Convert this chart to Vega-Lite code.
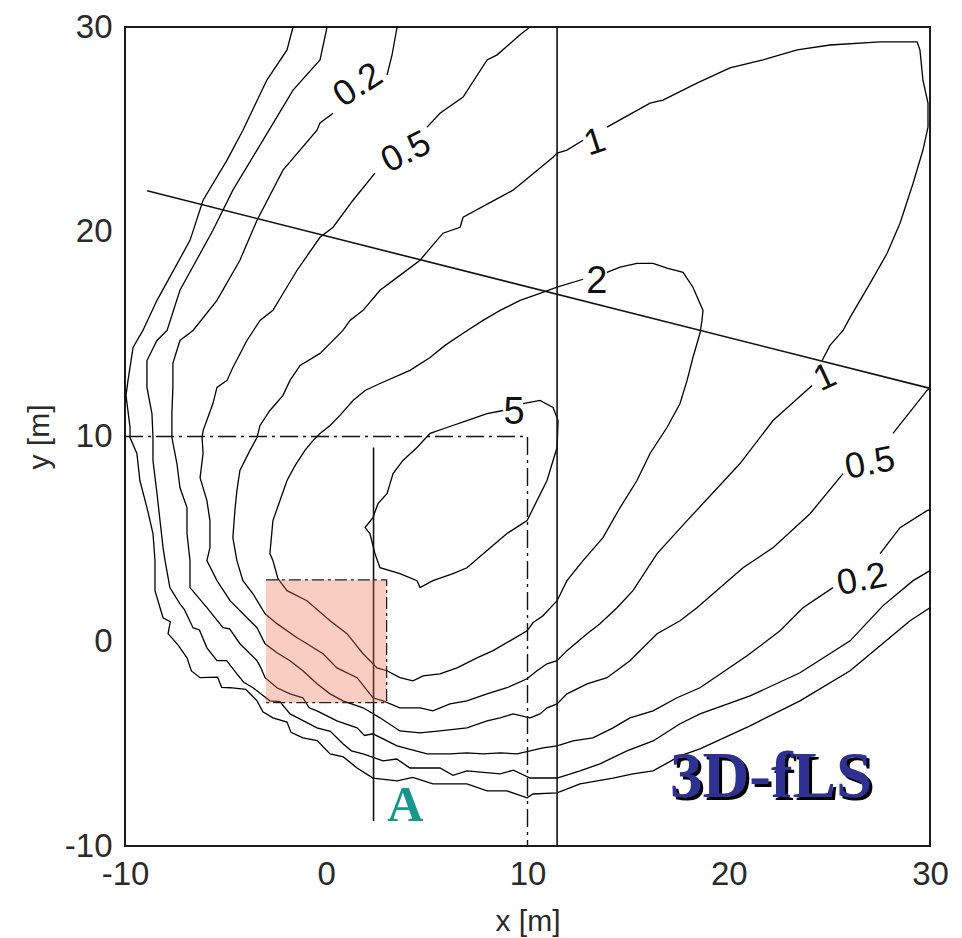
{
"$schema": "https://vega.github.io/schema/vega-lite/v6.json",
"width": 805, "height": 819,
"autosize": {"type": "none"},
"padding": {"left": 125, "top": 27, "right": 32, "bottom": 92},
"background": "white",
"config": {
 "view": {"stroke": "#1a1a1a", "strokeWidth": 2},
 "axis": {"grid": false, "domain": false, "ticks": false, "labelFont": "Liberation Sans Narrow, Liberation Sans", "labelFontSize": 33, "labelColor": "#2a2a2a", "titleFont": "Liberation Sans", "titleFontSize": 30, "titleFontWeight": "normal", "titleColor": "#2a2a2a", "labelFlush": false, "labelOverlap": false}
},
"datasets": {
 "lines": [
 {"g":"c005","i":0,"x":-1.65,"y":30.0},{"g":"c005","i":1,"x":-1.95,"y":28.88},{"g":"c005","i":2,"x":-2.95,"y":27.41},{"g":"c005","i":3,"x":-4.14,"y":24.96},{"g":"c005","i":4,"x":-4.93,"y":23.5},{"g":"c005","i":5,"x":-6.12,"y":21.54},{"g":"c005","i":6,"x":-6.77,"y":19.58},{"g":"c005","i":7,"x":-8.41,"y":16.65},{"g":"c005","i":8,"x":-9.11,"y":15.18},{"g":"c005","i":9,"x":-9.6,"y":14.35},{"g":"c005","i":10,"x":-9.85,"y":12.74},{"g":"c005","i":11,"x":-9.95,"y":12.01},{"g":"c005","i":12,"x":-9.75,"y":10.44},{"g":"c005","i":13,"x":-9.75,"y":9.95},{"g":"c005","i":14,"x":-9.41,"y":9.17},{"g":"c005","i":15,"x":-9.26,"y":7.85},{"g":"c005","i":16,"x":-8.91,"y":6.53},{"g":"c005","i":17,"x":-8.61,"y":5.26},{"g":"c005","i":18,"x":-8.51,"y":3.94},{"g":"c005","i":19,"x":-8.51,"y":2.47},{"g":"c005","i":20,"x":-8.11,"y":1.15},{"g":"c005","i":20.5,"x":-7.75,"y":0.95},{"g":"c005","i":21,"x":-7.86,"y":0.37},{"g":"c005","i":21.5,"x":-7.35,"y":-0.2},{"g":"c005","i":22,"x":-6.92,"y":-0.81},{"g":"c005","i":22.5,"x":-6.7,"y":-1.45},{"g":"c005","i":23,"x":-6.27,"y":-1.78},{"g":"c005","i":23.5,"x":-5.4,"y":-1.75},{"g":"c005","i":23.7,"x":-5.2,"y":-2.25},{"g":"c005","i":24,"x":-4.78,"y":-2.27},{"g":"c005","i":24.5,"x":-4.0,"y":-2.35},{"g":"c005","i":25,"x":-3.44,"y":-2.91},{"g":"c005","i":25.5,"x":-3.15,"y":-3.45},{"g":"c005","i":26,"x":-2.65,"y":-3.74},{"g":"c005","i":26.5,"x":-1.95,"y":-3.95},{"g":"c005","i":26.7,"x":-1.75,"y":-4.45},{"g":"c005","i":27,"x":-1.16,"y":-4.72},{"g":"c005","i":27.5,"x":-0.45,"y":-4.85},{"g":"c005","i":28,"x":0.19,"y":-5.5},{"g":"c005","i":28.5,"x":0.85,"y":-5.65},{"g":"c005","i":29,"x":1.53,"y":-6.19},{"g":"c005","i":30,"x":2.32,"y":-6.68},{"g":"c005","i":31,"x":3.52,"y":-6.82},{"g":"c005","i":31.5,"x":4.3,"y":-6.65},{"g":"c005","i":32,"x":5.3,"y":-6.97},{"g":"c005","i":33,"x":6.99,"y":-6.97},{"g":"c005","i":34,"x":7.99,"y":-7.31},{"g":"c005","i":35,"x":8.98,"y":-7.31},{"g":"c005","i":36,"x":9.98,"y":-7.65},{"g":"c005","i":37,"x":10.27,"y":-7.46},{"g":"c005","i":38,"x":11.47,"y":-7.41},{"g":"c005","i":39,"x":12.61,"y":-6.97},{"g":"c005","i":40,"x":14.25,"y":-6.68},{"g":"c005","i":41,"x":15.24,"y":-6.48},{"g":"c005","i":42,"x":16.24,"y":-6.33},{"g":"c005","i":43,"x":17.58,"y":-5.6},{"g":"c005","i":44,"x":18.57,"y":-5.26},{"g":"c005","i":45,"x":21.06,"y":-4.13},{"g":"c005","i":46,"x":23.54,"y":-2.91},{"g":"c005","i":47,"x":26.03,"y":-1.44},{"g":"c005","i":48,"x":27.52,"y":-0.22},{"g":"c005","i":49,"x":29.01,"y":1.0},{"g":"c005","i":50,"x":30.0,"y":1.64},
 {"g":"c01","i":0,"x":0.04,"y":30.0},{"g":"c01","i":1,"x":-0.31,"y":28.39},{"g":"c01","i":2,"x":-1.65,"y":26.92},{"g":"c01","i":3,"x":-3.44,"y":23.99},{"g":"c01","i":4,"x":-4.64,"y":22.03},{"g":"c01","i":5,"x":-5.63,"y":20.07},{"g":"c01","i":6,"x":-7.27,"y":17.14},{"g":"c01","i":7,"x":-7.91,"y":15.18},{"g":"c01","i":8,"x":-8.41,"y":14.69},{"g":"c01","i":9,"x":-8.91,"y":13.71},{"g":"c01","i":10,"x":-8.91,"y":12.4},{"g":"c01","i":11,"x":-8.66,"y":11.12},{"g":"c01","i":12,"x":-8.61,"y":9.95},{"g":"c01","i":13,"x":-8.61,"y":8.83},{"g":"c01","i":14,"x":-8.41,"y":7.21},{"g":"c01","i":15,"x":-8.26,"y":5.89},{"g":"c01","i":16,"x":-8.11,"y":4.57},{"g":"c01","i":17,"x":-8.01,"y":3.94},{"g":"c01","i":18,"x":-7.77,"y":2.62},{"g":"c01","i":19,"x":-7.27,"y":1.83},{"g":"c01","i":19.5,"x":-7.05,"y":1.55},{"g":"c01","i":20,"x":-6.62,"y":0.66},{"g":"c01","i":20.5,"x":-6.3,"y":0.55},{"g":"c01","i":21,"x":-5.93,"y":-0.32},{"g":"c01","i":22,"x":-5.43,"y":-0.95},{"g":"c01","i":22.5,"x":-4.95,"y":-0.95},{"g":"c01","i":23,"x":-4.44,"y":-1.59},{"g":"c01","i":23.5,"x":-4.1,"y":-2.0},{"g":"c01","i":24,"x":-3.64,"y":-2.27},{"g":"c01","i":25,"x":-2.8,"y":-2.91},{"g":"c01","i":25.5,"x":-2.3,"y":-2.95},{"g":"c01","i":26,"x":-1.8,"y":-3.55},{"g":"c01","i":27,"x":-0.46,"y":-4.23},{"g":"c01","i":27.5,"x":0.2,"y":-4.4},{"g":"c01","i":28,"x":0.83,"y":-5.01},{"g":"c01","i":28.5,"x":1.25,"y":-5.35},{"g":"c01","i":29,"x":1.83,"y":-5.5},{"g":"c01","i":30,"x":2.82,"y":-5.84},{"g":"c01","i":30.5,"x":3.5,"y":-5.75},{"g":"c01","i":31,"x":4.16,"y":-6.19},{"g":"c01","i":32,"x":5.65,"y":-6.19},{"g":"c01","i":32.5,"x":6.3,"y":-6.55},{"g":"c01","i":33,"x":6.99,"y":-6.33},{"g":"c01","i":34,"x":8.64,"y":-6.48},{"g":"c01","i":34.5,"x":9.3,"y":-6.3},{"g":"c01","i":35,"x":10.13,"y":-6.68},{"g":"c01","i":36,"x":11.47,"y":-6.68},{"g":"c01","i":37,"x":12.61,"y":-6.33},{"g":"c01","i":38,"x":13.6,"y":-5.99},{"g":"c01","i":39,"x":14.94,"y":-5.35},{"g":"c01","i":40,"x":16.24,"y":-4.87},{"g":"c01","i":41,"x":17.58,"y":-4.03},{"g":"c01","i":42,"x":18.57,"y":-3.55},{"g":"c01","i":43,"x":21.06,"y":-2.67},{"g":"c01","i":44,"x":23.54,"y":-1.54},{"g":"c01","i":45,"x":26.03,"y":0.02},{"g":"c01","i":46,"x":27.67,"y":1.74},{"g":"c01","i":47,"x":29.16,"y":2.96},{"g":"c01","i":48,"x":30.0,"y":3.45},
 {"g":"c02a","i":0,"x":3.02,"y":27.65},{"g":"c02a","i":1,"x":3.27,"y":28.64},{"g":"c02a","i":2,"x":3.52,"y":30.0},
 {"g":"c02b","i":0,"x":0.34,"y":25.79},{"g":"c02b","i":1,"x":-0.31,"y":25.31},{"g":"c02b","i":2,"x":-0.46,"y":24.96},{"g":"c02b","i":3,"x":-2.15,"y":23.01},{"g":"c02b","i":4,"x":-3.44,"y":20.56},{"g":"c02b","i":5,"x":-4.29,"y":18.61},{"g":"c02b","i":6,"x":-5.43,"y":16.65},{"g":"c02b","i":7,"x":-6.62,"y":15.18},{"g":"c02b","i":8,"x":-7.27,"y":14.69},{"g":"c02b","i":9,"x":-7.62,"y":13.57},{"g":"c02b","i":10,"x":-7.62,"y":12.4},{"g":"c02b","i":11,"x":-7.67,"y":11.12},{"g":"c02b","i":12,"x":-7.67,"y":9.95},{"g":"c02b","i":13,"x":-7.42,"y":8.68},{"g":"c02b","i":14,"x":-7.27,"y":7.51},{"g":"c02b","i":15,"x":-6.92,"y":6.53},{"g":"c02b","i":16,"x":-6.92,"y":5.26},{"g":"c02b","i":17,"x":-6.77,"y":3.94},{"g":"c02b","i":18,"x":-6.77,"y":2.62},{"g":"c02b","i":19,"x":-5.93,"y":1.64},{"g":"c02b","i":20,"x":-5.13,"y":0.66},{"g":"c02b","i":20.5,"x":-4.8,"y":0.6},{"g":"c02b","i":21,"x":-4.29,"y":-0.12},{"g":"c02b","i":22,"x":-3.44,"y":-0.95},{"g":"c02b","i":22.5,"x":-3.25,"y":-1.3},{"g":"c02b","i":23,"x":-3.04,"y":-1.78},{"g":"c02b","i":24,"x":-2.45,"y":-2.27},{"g":"c02b","i":25,"x":-1.8,"y":-2.57},{"g":"c02b","i":26,"x":-1.16,"y":-2.76},{"g":"c02b","i":26.5,"x":-0.85,"y":-3.25},{"g":"c02b","i":27,"x":-0.46,"y":-3.4},{"g":"c02b","i":28,"x":0.53,"y":-3.89},{"g":"c02b","i":29,"x":1.53,"y":-4.23},{"g":"c02b","i":29.5,"x":1.9,"y":-4.6},{"g":"c02b","i":30,"x":2.32,"y":-4.52},{"g":"c02b","i":31,"x":3.52,"y":-5.11},{"g":"c02b","i":32,"x":5.01,"y":-5.5},{"g":"c02b","i":33,"x":6.15,"y":-5.5},{"g":"c02b","i":34,"x":6.99,"y":-5.45},{"g":"c02b","i":35,"x":7.79,"y":-5.5},{"g":"c02b","i":36,"x":8.64,"y":-5.45},{"g":"c02b","i":37,"x":9.48,"y":-5.5},{"g":"c02b","i":38,"x":10.13,"y":-5.35},{"g":"c02b","i":39,"x":10.77,"y":-5.21},{"g":"c02b","i":40,"x":11.47,"y":-5.11},{"g":"c02b","i":41,"x":12.26,"y":-4.87},{"g":"c02b","i":42,"x":13.25,"y":-4.72},{"g":"c02b","i":43,"x":14.25,"y":-4.23},{"g":"c02b","i":44,"x":15.09,"y":-3.74},{"g":"c02b","i":45,"x":16.24,"y":-3.4},{"g":"c02b","i":46,"x":17.43,"y":-2.76},{"g":"c02b","i":47,"x":18.57,"y":-2.27},{"g":"c02b","i":48,"x":20.91,"y":-0.71},{"g":"c02b","i":49,"x":22.55,"y":0.51},{"g":"c02b","i":50,"x":23.69,"y":1.64},{"g":"c02b","i":51,"x":25.18,"y":2.62},
 {"g":"c02c","i":0,"x":27.52,"y":4.28},{"g":"c02c","i":1,"x":28.51,"y":5.55},{"g":"c02c","i":2,"x":29.85,"y":6.38},{"g":"c02c","i":3,"x":30.0,"y":6.43},
 {"g":"c05a","i":0,"x":10.13,"y":30.0},{"g":"c05a","i":1,"x":9.63,"y":29.62},{"g":"c05a","i":2,"x":8.49,"y":28.64},{"g":"c05a","i":3,"x":7.99,"y":28.39},{"g":"c05a","i":4,"x":6.8,"y":26.58},{"g":"c05a","i":5,"x":5.65,"y":25.79},{"g":"c05a","i":6,"x":5.01,"y":25.11},
 {"g":"c05b","i":0,"x":2.42,"y":22.86},{"g":"c05b","i":1,"x":1.33,"y":21.54},{"g":"c05b","i":2,"x":0.34,"y":20.22},{"g":"c05b","i":3,"x":-0.31,"y":19.73},{"g":"c05b","i":4,"x":-1.45,"y":18.12},{"g":"c05b","i":5,"x":-2.65,"y":16.16},{"g":"c05b","i":6,"x":-3.29,"y":15.67},{"g":"c05b","i":7,"x":-3.94,"y":14.69},{"g":"c05b","i":8,"x":-4.64,"y":13.37},{"g":"c05b","i":9,"x":-4.93,"y":12.74},{"g":"c05b","i":10,"x":-5.43,"y":12.4},{"g":"c05b","i":11,"x":-5.63,"y":11.61},{"g":"c05b","i":12,"x":-6.12,"y":10.29},{"g":"c05b","i":13,"x":-6.17,"y":9.95},{"g":"c05b","i":14,"x":-6.12,"y":9.17},{"g":"c05b","i":15,"x":-6.27,"y":7.99},{"g":"c05b","i":16,"x":-5.93,"y":6.87},{"g":"c05b","i":17,"x":-5.78,"y":5.89},{"g":"c05b","i":18,"x":-5.78,"y":4.57},{"g":"c05b","i":19,"x":-5.93,"y":3.94},{"g":"c05b","i":20,"x":-5.43,"y":2.96},{"g":"c05b","i":21,"x":-4.78,"y":1.98},{"g":"c05b","i":22,"x":-3.94,"y":1.15},{"g":"c05b","i":23,"x":-3.44,"y":0.66},{"g":"c05b","i":24,"x":-3.04,"y":-0.12},{"g":"c05b","i":25,"x":-2.45,"y":-0.56},{"g":"c05b","i":26,"x":-1.8,"y":-0.95},{"g":"c05b","i":27,"x":-1.16,"y":-1.44},{"g":"c05b","i":28,"x":-0.46,"y":-2.08},{"g":"c05b","i":29,"x":0.19,"y":-2.57},{"g":"c05b","i":30,"x":0.83,"y":-2.91},{"g":"c05b","i":31,"x":1.83,"y":-3.25},{"g":"c05b","i":32,"x":2.67,"y":-3.74},{"g":"c05b","i":33,"x":3.66,"y":-4.38},{"g":"c05b","i":34,"x":4.66,"y":-4.47},{"g":"c05b","i":35,"x":5.65,"y":-4.38},{"g":"c05b","i":36,"x":6.99,"y":-4.23},{"g":"c05b","i":37,"x":7.99,"y":-3.89},{"g":"c05b","i":38,"x":8.64,"y":-3.74},{"g":"c05b","i":39,"x":9.28,"y":-3.55},{"g":"c05b","i":40,"x":10.13,"y":-3.74},{"g":"c05b","i":41,"x":10.62,"y":-3.55},{"g":"c05b","i":42,"x":10.97,"y":-3.25},{"g":"c05b","i":43,"x":11.47,"y":-3.06},{"g":"c05b","i":44,"x":11.96,"y":-2.57},{"g":"c05b","i":45,"x":12.96,"y":-2.08},{"g":"c05b","i":46,"x":13.95,"y":-1.78},{"g":"c05b","i":47,"x":15.09,"y":-0.95},{"g":"c05b","i":48,"x":16.44,"y":0.37},{"g":"c05b","i":49,"x":17.58,"y":1.0},{"g":"c05b","i":50,"x":18.42,"y":1.64},{"g":"c05b","i":51,"x":20.71,"y":3.59},{"g":"c05b","i":52,"x":22.2,"y":4.57},{"g":"c05b","i":53,"x":24.04,"y":6.23},{"g":"c05b","i":54,"x":25.68,"y":8.19},
 {"g":"c05c","i":0,"x":28.16,"y":10.15},{"g":"c05c","i":1,"x":29.85,"y":12.25},{"g":"c05c","i":2,"x":30.0,"y":12.35},
 {"g":"c1a","i":0,"x":13.95,"y":25.11},{"g":"c1a","i":1,"x":16.09,"y":26.28},{"g":"c1a","i":2,"x":16.73,"y":26.43},{"g":"c1a","i":3,"x":18.42,"y":27.26},{"g":"c1a","i":4,"x":20.06,"y":28.0},{"g":"c1a","i":5,"x":21.7,"y":28.39},{"g":"c1a","i":6,"x":23.4,"y":28.88},{"g":"c1a","i":7,"x":25.03,"y":29.12},{"g":"c1a","i":8,"x":27.52,"y":29.27},{"g":"c1a","i":9,"x":29.36,"y":29.27},{"g":"c1a","i":10,"x":29.5,"y":28.88},{"g":"c1a","i":11,"x":29.65,"y":27.41},{"g":"c1a","i":12,"x":29.9,"y":26.28},{"g":"c1a","i":13,"x":29.9,"y":25.11},{"g":"c1a","i":14,"x":29.65,"y":23.99},{"g":"c1a","i":15,"x":29.16,"y":22.37},{"g":"c1a","i":16,"x":28.51,"y":20.42},{"g":"c1a","i":17,"x":27.87,"y":18.95},{"g":"c1a","i":18,"x":27.02,"y":17.48},{"g":"c1a","i":19,"x":26.03,"y":15.82},{"g":"c1a","i":20,"x":25.68,"y":15.18},{"g":"c1a","i":21,"x":25.03,"y":14.45},{"g":"c1a","i":22,"x":24.64,"y":13.71},
 {"g":"c1b","i":0,"x":24.14,"y":12.49},{"g":"c1b","i":1,"x":22.2,"y":10.78},{"g":"c1b","i":2,"x":20.56,"y":8.68},{"g":"c1b","i":3,"x":17.93,"y":5.89},{"g":"c1b","i":4,"x":16.44,"y":4.28},{"g":"c1b","i":5,"x":15.24,"y":2.47},{"g":"c1b","i":6,"x":14.45,"y":1.64},{"g":"c1b","i":7,"x":13.6,"y":0.86},{"g":"c1b","i":8,"x":12.96,"y":0.37},{"g":"c1b","i":9,"x":11.96,"y":-0.46},{"g":"c1b","i":10,"x":11.47,"y":-0.95},{"g":"c1b","i":11,"x":10.97,"y":-1.1},{"g":"c1b","i":12,"x":10.47,"y":-1.44},{"g":"c1b","i":13,"x":9.98,"y":-1.83},{"g":"c1b","i":14,"x":8.98,"y":-2.27},{"g":"c1b","i":15,"x":7.99,"y":-2.57},{"g":"c1b","i":16,"x":6.99,"y":-2.91},{"g":"c1b","i":17,"x":6.15,"y":-3.06},{"g":"c1b","i":18,"x":5.3,"y":-3.4},{"g":"c1b","i":19,"x":4.66,"y":-3.25},{"g":"c1b","i":20,"x":3.66,"y":-3.25},{"g":"c1b","i":21,"x":2.82,"y":-2.91},{"g":"c1b","i":22,"x":2.32,"y":-2.76},{"g":"c1b","i":23,"x":1.53,"y":-1.78},{"g":"c1b","i":24,"x":0.53,"y":-1.3},{"g":"c1b","i":25,"x":-0.16,"y":-0.61},{"g":"c1b","i":26,"x":-0.96,"y":-0.12},{"g":"c1b","i":27,"x":-1.45,"y":0.17},{"g":"c1b","i":28,"x":-2.45,"y":0.86},{"g":"c1b","i":29,"x":-3.04,"y":1.34},{"g":"c1b","i":30,"x":-3.64,"y":2.32},{"g":"c1b","i":31,"x":-4.14,"y":2.96},{"g":"c1b","i":32,"x":-4.44,"y":3.94},{"g":"c1b","i":33,"x":-4.64,"y":5.06},{"g":"c1b","i":34,"x":-4.54,"y":6.38},{"g":"c1b","i":35,"x":-4.44,"y":7.36},{"g":"c1b","i":36,"x":-4.29,"y":8.34},{"g":"c1b","i":37,"x":-3.79,"y":9.32},{"g":"c1b","i":38,"x":-3.44,"y":9.95},{"g":"c1b","i":39,"x":-3.29,"y":10.54},{"g":"c1b","i":40,"x":-2.8,"y":11.27},{"g":"c1b","i":41,"x":-2.15,"y":12.01},{"g":"c1b","i":42,"x":-1.8,"y":12.74},{"g":"c1b","i":43,"x":-1.3,"y":13.47},{"g":"c1b","i":44,"x":-0.31,"y":14.06},{"g":"c1b","i":45,"x":0.19,"y":14.55},{"g":"c1b","i":46,"x":0.83,"y":15.18},{"g":"c1b","i":47,"x":1.18,"y":15.67},{"g":"c1b","i":48,"x":1.83,"y":16.16},{"g":"c1b","i":49,"x":2.67,"y":17.14},{"g":"c1b","i":50,"x":3.66,"y":17.87},{"g":"c1b","i":51,"x":4.66,"y":18.61},{"g":"c1b","i":52,"x":5.8,"y":19.93},{"g":"c1b","i":53,"x":6.65,"y":20.22},{"g":"c1b","i":54,"x":6.8,"y":20.71},{"g":"c1b","i":55,"x":8.64,"y":21.69},{"g":"c1b","i":56,"x":9.28,"y":22.03},{"g":"c1b","i":57,"x":11.27,"y":23.64},{"g":"c1b","i":58,"x":11.47,"y":23.84},{"g":"c1b","i":59,"x":11.96,"y":23.99},{"g":"c1b","i":60,"x":12.76,"y":24.47},
 {"g":"c2","i":0,"x":13.95,"y":18.02},{"g":"c2","i":1,"x":14.6,"y":18.27},{"g":"c2","i":2,"x":15.44,"y":18.46},{"g":"c2","i":3,"x":16.24,"y":18.46},{"g":"c2","i":4,"x":16.93,"y":18.22},{"g":"c2","i":5,"x":17.73,"y":18.02},{"g":"c2","i":6,"x":18.22,"y":17.29},{"g":"c2","i":7,"x":18.72,"y":16.16},{"g":"c2","i":8,"x":18.67,"y":15.67},{"g":"c2","i":9,"x":18.57,"y":15.04},{"g":"c2","i":10,"x":18.22,"y":13.86},{"g":"c2","i":11,"x":17.93,"y":12.74},{"g":"c2","i":12,"x":17.58,"y":11.61},{"g":"c2","i":13,"x":16.93,"y":10.44},{"g":"c2","i":14,"x":16.09,"y":9.17},{"g":"c2","i":15,"x":15.44,"y":7.85},{"g":"c2","i":16,"x":14.6,"y":6.53},{"g":"c2","i":17,"x":13.75,"y":5.06},{"g":"c2","i":18,"x":12.76,"y":3.94},{"g":"c2","i":19,"x":11.96,"y":2.96},{"g":"c2","i":20,"x":11.47,"y":1.98},{"g":"c2","i":21,"x":10.77,"y":1.25},{"g":"c2","i":22,"x":10.27,"y":0.9},{"g":"c2","i":23,"x":9.98,"y":0.51},{"g":"c2","i":24,"x":9.13,"y":0.02},{"g":"c2","i":25,"x":8.29,"y":-0.46},{"g":"c2","i":26,"x":7.49,"y":-0.81},{"g":"c2","i":27,"x":6.5,"y":-1.3},{"g":"c2","i":28,"x":5.65,"y":-1.59},{"g":"c2","i":29,"x":4.81,"y":-1.69},{"g":"c2","i":30,"x":4.31,"y":-1.93},{"g":"c2","i":31,"x":3.66,"y":-1.78},{"g":"c2","i":32,"x":3.02,"y":-1.44},{"g":"c2","i":33,"x":2.52,"y":-1.3},{"g":"c2","i":34,"x":1.83,"y":-0.61},{"g":"c2","i":35,"x":1.03,"y":0.37},{"g":"c2","i":36,"x":0.19,"y":1.0},{"g":"c2","i":37,"x":-0.96,"y":1.98},{"g":"c2","i":38,"x":-1.95,"y":2.47},{"g":"c2","i":39,"x":-2.4,"y":3.06},{"g":"c2","i":40,"x":-2.65,"y":3.94},{"g":"c2","i":41,"x":-2.8,"y":4.28},{"g":"c2","i":42,"x":-2.65,"y":5.89},{"g":"c2","i":43,"x":-2.3,"y":6.87},{"g":"c2","i":44,"x":-1.95,"y":7.85},{"g":"c2","i":45,"x":-1.55,"y":8.58},{"g":"c2","i":46,"x":-1.06,"y":9.32},{"g":"c2","i":47,"x":-0.66,"y":9.8},{"g":"c2","i":48,"x":-0.31,"y":10.15},{"g":"c2","i":49,"x":0.19,"y":10.54},{"g":"c2","i":50,"x":0.68,"y":11.03},{"g":"c2","i":51,"x":1.33,"y":11.76},{"g":"c2","i":52,"x":1.93,"y":12.25},{"g":"c2","i":53,"x":2.67,"y":12.59},{"g":"c2","i":54,"x":4.16,"y":13.23},{"g":"c2","i":55,"x":5.16,"y":13.86},{"g":"c2","i":56,"x":5.9,"y":14.45},{"g":"c2","i":57,"x":6.8,"y":15.04},{"g":"c2","i":58,"x":7.79,"y":15.67},{"g":"c2","i":59,"x":8.64,"y":16.16},{"g":"c2","i":60,"x":9.63,"y":16.65},{"g":"c2","i":61,"x":10.62,"y":16.99},{"g":"c2","i":62,"x":11.47,"y":17.29},{"g":"c2","i":63,"x":12.76,"y":17.68},
 {"g":"c5","i":0,"x":9.78,"y":11.61},{"g":"c5","i":1,"x":10.62,"y":11.76},{"g":"c5","i":2,"x":11.27,"y":11.42},{"g":"c5","i":3,"x":11.52,"y":10.78},{"g":"c5","i":4,"x":11.47,"y":9.46},{"g":"c5","i":5,"x":11.27,"y":8.83},{"g":"c5","i":6,"x":10.97,"y":7.85},{"g":"c5","i":7,"x":10.47,"y":6.87},{"g":"c5","i":8,"x":9.98,"y":5.89},{"g":"c5","i":9,"x":8.98,"y":5.26},{"g":"c5","i":10,"x":7.99,"y":4.43},{"g":"c5","i":11,"x":6.99,"y":3.59},{"g":"c5","i":12,"x":6.3,"y":3.3},{"g":"c5","i":13,"x":5.3,"y":2.96},{"g":"c5","i":14,"x":4.66,"y":2.62},{"g":"c5","i":15,"x":4.51,"y":2.96},{"g":"c5","i":16,"x":3.66,"y":3.3},{"g":"c5","i":17,"x":2.67,"y":3.59},{"g":"c5","i":18,"x":2.42,"y":4.28},{"g":"c5","i":19,"x":2.17,"y":5.26},{"g":"c5","i":20,"x":1.93,"y":5.55},{"g":"c5","i":21,"x":2.32,"y":6.04},{"g":"c5","i":22,"x":2.57,"y":6.72},{"g":"c5","i":23,"x":3.02,"y":7.21},{"g":"c5","i":24,"x":3.32,"y":8.19},{"g":"c5","i":25,"x":3.81,"y":8.83},{"g":"c5","i":26,"x":4.51,"y":9.46},{"g":"c5","i":27,"x":5.16,"y":10.15},{"g":"c5","i":28,"x":6.0,"y":10.44},{"g":"c5","i":29,"x":6.99,"y":10.78},{"g":"c5","i":30,"x":7.99,"y":11.12},{"g":"c5","i":31,"x":8.79,"y":11.27},
 {"g":"t","i":0,"x":-8.9,"y":22.0},{"g":"t","i":1,"x":30.0,"y":12.35},
 {"g":"v1","i":0,"x":11.47,"y":-10},{"g":"v1","i":1,"x":11.47,"y":30},
 {"g":"v2","i":0,"x":2.35,"y":9.46},{"g":"v2","i":1,"x":2.35,"y":-8.78},
 {"g":"d","i":0,"x":-10,"y":10},{"g":"d","i":1,"x":10,"y":10},{"g":"d","i":2,"x":10,"y":-10},
 {"g":"e","i":0,"x":-3,"y":3},{"g":"e","i":1,"x":3,"y":3},{"g":"e","i":2,"x":3,"y":-3},{"g":"e","i":3,"x":-3,"y":-3}
 ],
 "labels": [
 {"id":"tl02","t":"0.2","x":1.58,"y":27.16},
 {"id":"tl05","t":"0.5","x":3.96,"y":23.89},
 {"id":"tl1","t":"1","x":13.35,"y":24.38},
 {"id":"m2","t":"2","x":13.45,"y":17.55},
 {"id":"m5","t":"5","x":9.33,"y":11.15},
 {"id":"r1","t":"1","x":24.78,"y":12.88},
 {"id":"r05","t":"0.5","x":27.02,"y":8.68},
 {"id":"r02","t":"0.2","x":26.62,"y":3.01}
 ],
 "notes": [
 {"id":"A","t":"A","x":3.93,"y":-8.04},
 {"id":"S","t":"3D-fLS","x":22.1,"y":-6.63}
 ],
 "box": [{"x":-3,"x2":3,"y":-3,"y2":3}],
 "tickpos": [{"v":0},{"v":10},{"v":20}]
},
"encoding": {
 "x": {"field": "x", "type": "quantitative", "scale": {"domain": [-10, 30], "nice": false, "zero": false}, "axis": null},
 "y": {"field": "y", "type": "quantitative", "scale": {"domain": [-10, 30], "nice": false, "zero": false}, "axis": null}
},
"layer": [
 {"data": {"name": "lines"}, "transform": [{"filter": "indexof(datum.g, 'c') == 0"}],
  "mark": {"type": "line", "color": "#000000", "strokeWidth": 1.3},
  "encoding": {
   "x": {"field": "x", "type": "quantitative", "scale": {"domain": [-10, 30], "nice": false, "zero": false}, "axis": {"orient": "bottom", "values": [-10, 0, 10, 20, 30], "labelExpr": "'' + datum.value", "title": "x [m]", "labelPadding": 12, "titlePadding": 15}},
   "y": {"field": "y", "type": "quantitative", "scale": {"domain": [-10, 30], "nice": false, "zero": false}, "axis": {"orient": "left", "values": [-10, 0, 10, 20, 30], "labelExpr": "'' + datum.value", "title": "y [m]", "labelPadding": 13, "titlePadding": 10}},
   "detail": {"field": "g"}, "order": {"field": "i", "type": "quantitative"}}},
 {"data": {"name": "lines"}, "transform": [{"filter": "datum.g == 't' || datum.g == 'v1' || datum.g == 'v2'"}],
  "mark": {"type": "line", "color": "#111111", "strokeWidth": 1.6},
  "encoding": {"detail": {"field": "g"}, "order": {"field": "i", "type": "quantitative"}}},
 {"data": {"name": "lines"}, "transform": [{"filter": "datum.g == 'd'"}],
  "mark": {"type": "line", "color": "#111111", "strokeWidth": 1.4, "strokeDash": [18, 5, 3, 5]},
  "encoding": {"order": {"field": "i", "type": "quantitative"}}},
 {"data": {"name": "box"},
  "mark": {"type": "rect", "fill": "#f07050", "fillOpacity": 0.35, "strokeWidth": 0},
  "encoding": {"x2": {"field": "x2"}, "y2": {"field": "y2"}}},
 {"data": {"name": "lines"}, "transform": [{"filter": "datum.g == 'e'"}],
  "mark": {"type": "line", "color": "#222222", "strokeWidth": 1.3, "strokeDash": [12, 4, 3, 4]},
  "encoding": {"order": {"field": "i", "type": "quantitative"}}},
 {"data": {"name": "tickpos"},
  "mark": {"type": "rule", "color": "#1a1a1a", "strokeWidth": 1.6, "y2Offset": -9},
  "encoding": {"x": {"field": "v", "type": "quantitative", "axis": null}, "y": {"datum": -10, "type": "quantitative", "axis": null}, "y2": {"datum": -10}}},
 {"data": {"name": "tickpos"},
  "mark": {"type": "rule", "color": "#1a1a1a", "strokeWidth": 1.6, "y2Offset": 9},
  "encoding": {"x": {"field": "v", "type": "quantitative", "axis": null}, "y": {"datum": 30, "type": "quantitative", "axis": null}, "y2": {"datum": 30}}},
 {"data": {"name": "tickpos"},
  "mark": {"type": "rule", "color": "#1a1a1a", "strokeWidth": 1.6, "x2Offset": 9},
  "encoding": {"y": {"field": "v", "type": "quantitative", "axis": null}, "x": {"datum": -10, "type": "quantitative", "axis": null}, "x2": {"datum": -10}}},
 {"data": {"name": "tickpos"},
  "mark": {"type": "rule", "color": "#1a1a1a", "strokeWidth": 1.6, "x2Offset": -9},
  "encoding": {"y": {"field": "v", "type": "quantitative", "axis": null}, "x": {"datum": 30, "type": "quantitative", "axis": null}, "x2": {"datum": 30}}},
 {"data": {"name": "labels"}, "transform": [{"filter": "datum.id == 'tl02'"}],
  "mark": {"type": "text", "font": "Liberation Sans", "fontSize": 36, "color": "#111111", "angle": -33, "align": "center", "baseline": "middle"},
  "encoding": {"text": {"field": "t"}}},
 {"data": {"name": "labels"}, "transform": [{"filter": "datum.id == 'tl05'"}],
  "mark": {"type": "text", "font": "Liberation Sans", "fontSize": 36, "color": "#111111", "angle": -27, "align": "center", "baseline": "middle"},
  "encoding": {"text": {"field": "t"}}},
 {"data": {"name": "labels"}, "transform": [{"filter": "datum.id == 'tl1'"}],
  "mark": {"type": "text", "font": "Liberation Sans", "fontSize": 36, "color": "#111111", "angle": -18, "align": "center", "baseline": "middle"},
  "encoding": {"text": {"field": "t"}}},
 {"data": {"name": "labels"}, "transform": [{"filter": "datum.id == 'm2' || datum.id == 'm5'"}],
  "mark": {"type": "text", "font": "Liberation Sans", "fontSize": 38, "color": "#111111", "align": "center", "baseline": "middle"},
  "encoding": {"text": {"field": "t"}}},
 {"data": {"name": "labels"}, "transform": [{"filter": "datum.id == 'r1'"}],
  "mark": {"type": "text", "font": "Liberation Sans", "fontSize": 36, "color": "#111111", "angle": -25, "align": "center", "baseline": "middle"},
  "encoding": {"text": {"field": "t"}}},
 {"data": {"name": "labels"}, "transform": [{"filter": "datum.id == 'r05' || datum.id == 'r02'"}],
  "mark": {"type": "text", "font": "Liberation Sans", "fontSize": 36, "color": "#111111", "angle": -11, "align": "center", "baseline": "middle"},
  "encoding": {"text": {"field": "t"}}},
 {"data": {"name": "notes"}, "transform": [{"filter": "datum.id == 'A'"}],
  "mark": {"type": "text", "font": "Liberation Serif", "fontWeight": "bold", "fontSize": 50, "color": "#16968c", "align": "center", "baseline": "middle"},
  "encoding": {"text": {"field": "t"}}},
 {"data": {"name": "notes"}, "transform": [{"filter": "datum.id == 'S'"}],
  "mark": {"type": "text", "font": "Liberation Serif", "fontWeight": "bold", "fontSize": 65, "color": "#000000", "align": "center", "baseline": "middle", "dx": 3, "dy": 3},
  "encoding": {"text": {"field": "t"}}},
 {"data": {"name": "notes"}, "transform": [{"filter": "datum.id == 'S'"}],
  "mark": {"type": "text", "font": "Liberation Serif", "fontWeight": "bold", "fontSize": 65, "color": "#2e3092", "align": "center", "baseline": "middle"},
  "encoding": {"text": {"field": "t"}}}
],
"resolve": {"axis": {"x": "independent", "y": "independent"}}
}
